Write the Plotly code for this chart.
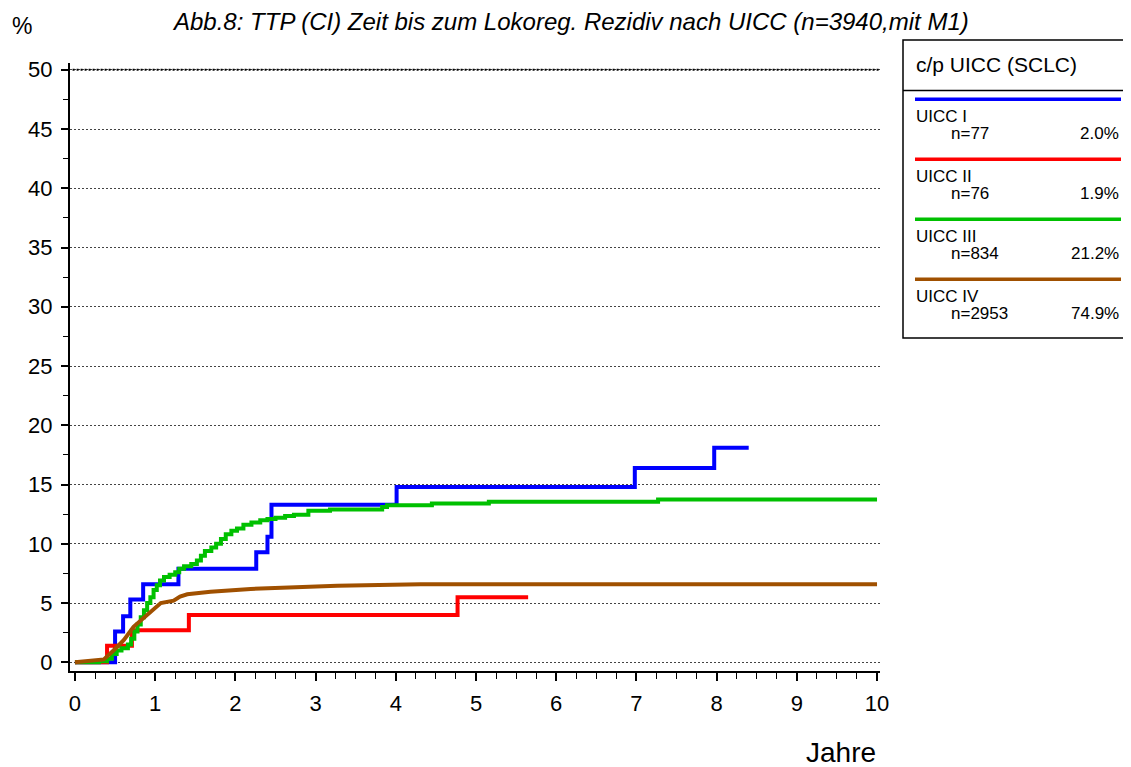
import plotly.graph_objects as go

# UICC I (step curve)
x_uicc1 = [0, 0.50, 0.60, 0.69, 0.85, 1.29, 2.26, 2.40, 2.45, 4.01, 6.98, 7.97, 8.40]
y_uicc1 = [0, 2.6, 3.9, 5.3, 6.6, 7.9, 9.3, 10.6, 13.3, 14.8, 16.4, 18.1, 18.1]

# UICC II
x_uicc2 = [0, 0.40, 0.71, 1.42, 4.77, 5.65]
y_uicc2 = [0, 1.4, 2.7, 4.0, 5.5, 5.5]

# UICC III
x_uicc3 = [0, 0.30, 0.40, 0.46, 0.52, 0.58, 0.66, 0.70, 0.74, 0.78, 0.82, 0.86, 0.90, 0.94,
           0.98, 1.02, 1.06, 1.11, 1.18, 1.25, 1.30, 1.36, 1.45, 1.52, 1.57, 1.62, 1.70,
           1.76, 1.82, 1.88, 1.95, 2.02, 2.10, 2.20, 2.31, 2.40, 2.50, 2.62, 2.73, 2.91,
           3.18, 3.83, 3.89, 4.45, 5.16, 7.27, 10.0]
y_uicc3 = [0, 0.1, 0.3, 0.7, 1.0, 1.2, 1.5, 2.0, 2.6, 3.2, 3.8, 4.4, 5.0, 5.5,
           6.1, 6.5, 6.9, 7.2, 7.4, 7.6, 7.9, 8.1, 8.3, 8.6, 9.0, 9.4, 9.7,
           10.0, 10.4, 10.8, 11.1, 11.3, 11.6, 11.8, 12.0, 12.1, 12.2, 12.35, 12.45, 12.8,
           12.9, 13.1, 13.25, 13.4, 13.55, 13.75, 13.75]

# UICC IV
x_uicc4 = [0, 0.23, 0.36, 0.48, 0.61, 0.73, 0.88, 1.02, 1.07, 1.23, 1.31, 1.40, 1.69,
           2.19, 2.69, 3.06, 3.27, 4.31, 10.0]
y_uicc4 = [0, 0.2, 0.25, 1.0, 1.9, 3.0, 3.85, 4.75, 5.0, 5.2, 5.55, 5.74, 5.96,
           6.19, 6.33, 6.44, 6.47, 6.59, 6.59]

names = ["UICC I", "UICC II", "UICC III", "UICC IV"]
n_counts = [77, 76, 834, 2953]
pcts = ["2.0%", "1.9%", "21.2%", "74.9%"]
colors = ["#0000FF", "#FF0000", "#00C000", "#A05000"]
shapes_hv = ["hv", "hv", "hv", "linear"]

# the page body has an 8px margin, so the figure sits 8px in from the window corner
OFF = 8
W, H = 1131 - OFF, 767 - OFF
L, R, T, B = 70 - OFF, 251, 63 - OFF, 96
FONT = "Liberation Sans, Arial, sans-serif"


def px(x):
    # window pixel -> paper coordinate
    return (x - OFF - L) / (W - L - R)


def py(y):
    return (H - B - (y - OFF)) / (H - T - B)


fig = go.Figure()
series = [(x_uicc1, y_uicc1), (x_uicc2, y_uicc2), (x_uicc3, y_uicc3), (x_uicc4, y_uicc4)]
for (xs, ys), name, col, shp in zip(series, names, colors, shapes_hv):
    fig.add_trace(go.Scatter(x=xs, y=ys, mode="lines", name=name,
                             line=dict(color=col, width=4, shape=shp)))

fig.update_xaxes(range=[-0.062, 10.037], tickvals=list(range(0, 11)), showgrid=False,
                 zeroline=False, showline=True, linecolor="black", linewidth=2,
                 ticks="outside", ticklen=8, tickwidth=1.5, tickcolor="black",
                 minor=dict(dtick=0.25, ticks="outside", ticklen=6, tickwidth=1, tickcolor="black"),
                 ticklabelstandoff=4,
                 tickfont=dict(size=22, color="black", family=FONT))
fig.update_yaxes(range=[-0.73, 50.57], tickvals=list(range(0, 51, 5)),
                 showgrid=True, gridcolor="#444", gridwidth=1, griddash="2px,2px",
                 zeroline=False, showline=True, linecolor="black", linewidth=2,
                 ticks="outside", ticklen=7, tickwidth=1.5, tickcolor="black",
                 minor=dict(dtick=2.5, ticks="outside", ticklen=5, tickwidth=1, tickcolor="black",
                            showgrid=False),
                 ticklabelstandoff=4,
                 tickfont=dict(size=22, color="black", family=FONT))

shapes = [
    # darker top gridline
    dict(type="line", xref="x", yref="y", x0=-0.03, x1=10.037, y0=50, y1=50,
         line=dict(color="black", width=2, dash="2px,2px")),
    # legend box
    dict(type="rect", xref="paper", yref="paper", x0=px(903), x1=px(1130), y0=py(338), y1=py(40),
         line=dict(color="black", width=1.5)),
    dict(type="line", xref="paper", yref="paper", x0=px(903), x1=px(1130), y0=py(90.5), y1=py(90.5),
         line=dict(color="black", width=1.5)),
]
annotations = [
    dict(text="<i>Abb.8: TTP (CI) Zeit bis zum Lokoreg. Rezidiv nach UICC (n=3940,mit M1)</i>",
         xref="paper", yref="paper", x=px(570), y=py(21), showarrow=False,
         xanchor="center", yanchor="middle", font=dict(size=24, color="black", family=FONT)),
    dict(text="%", xref="paper", yref="paper", x=px(22), y=py(26), showarrow=False,
         xanchor="center", yanchor="middle", font=dict(size=23, color="black", family=FONT)),
    dict(text="Jahre", xref="paper", yref="paper", x=px(878), y=py(752), showarrow=False,
         xanchor="right", yanchor="middle", font=dict(size=28, color="black", family=FONT)),
    dict(text="c/p UICC (SCLC)", xref="paper", yref="paper", x=px(914), y=py(65), showarrow=False,
         xanchor="left", yanchor="middle", font=dict(size=21, color="black", family=FONT)),
]

for i, (name, n, pct, col) in enumerate(zip(names, n_counts, pcts, colors)):
    y0 = 99.3 + 60 * i
    shapes.append(dict(type="line", xref="paper", yref="paper", x0=px(915), x1=px(1121),
                       y0=py(y0), y1=py(y0), line=dict(color=col, width=3.5)))
    annotations.append(dict(text=name, xref="paper", yref="paper", x=px(914), y=py(y0 + 17.5),
                            showarrow=False, xanchor="left", yanchor="middle",
                            font=dict(size=17, color="black", family=FONT)))
    annotations.append(dict(text="n=%d" % n, xref="paper", yref="paper", x=px(949), y=py(y0 + 34),
                            showarrow=False, xanchor="left", yanchor="middle",
                            font=dict(size=17, color="black", family=FONT)))
    annotations.append(dict(text=pct, xref="paper", yref="paper", x=px(1121), y=py(y0 + 34),
                            showarrow=False, xanchor="right", yanchor="middle",
                            font=dict(size=17, color="black", family=FONT)))

fig.update_layout(width=W, height=H, margin=dict(l=L, r=R, t=T, b=B),
                  plot_bgcolor="white", paper_bgcolor="white", showlegend=False,
                  shapes=shapes, annotations=annotations,
                  font=dict(family=FONT, color="black"))

fig.write_html("out.html")
